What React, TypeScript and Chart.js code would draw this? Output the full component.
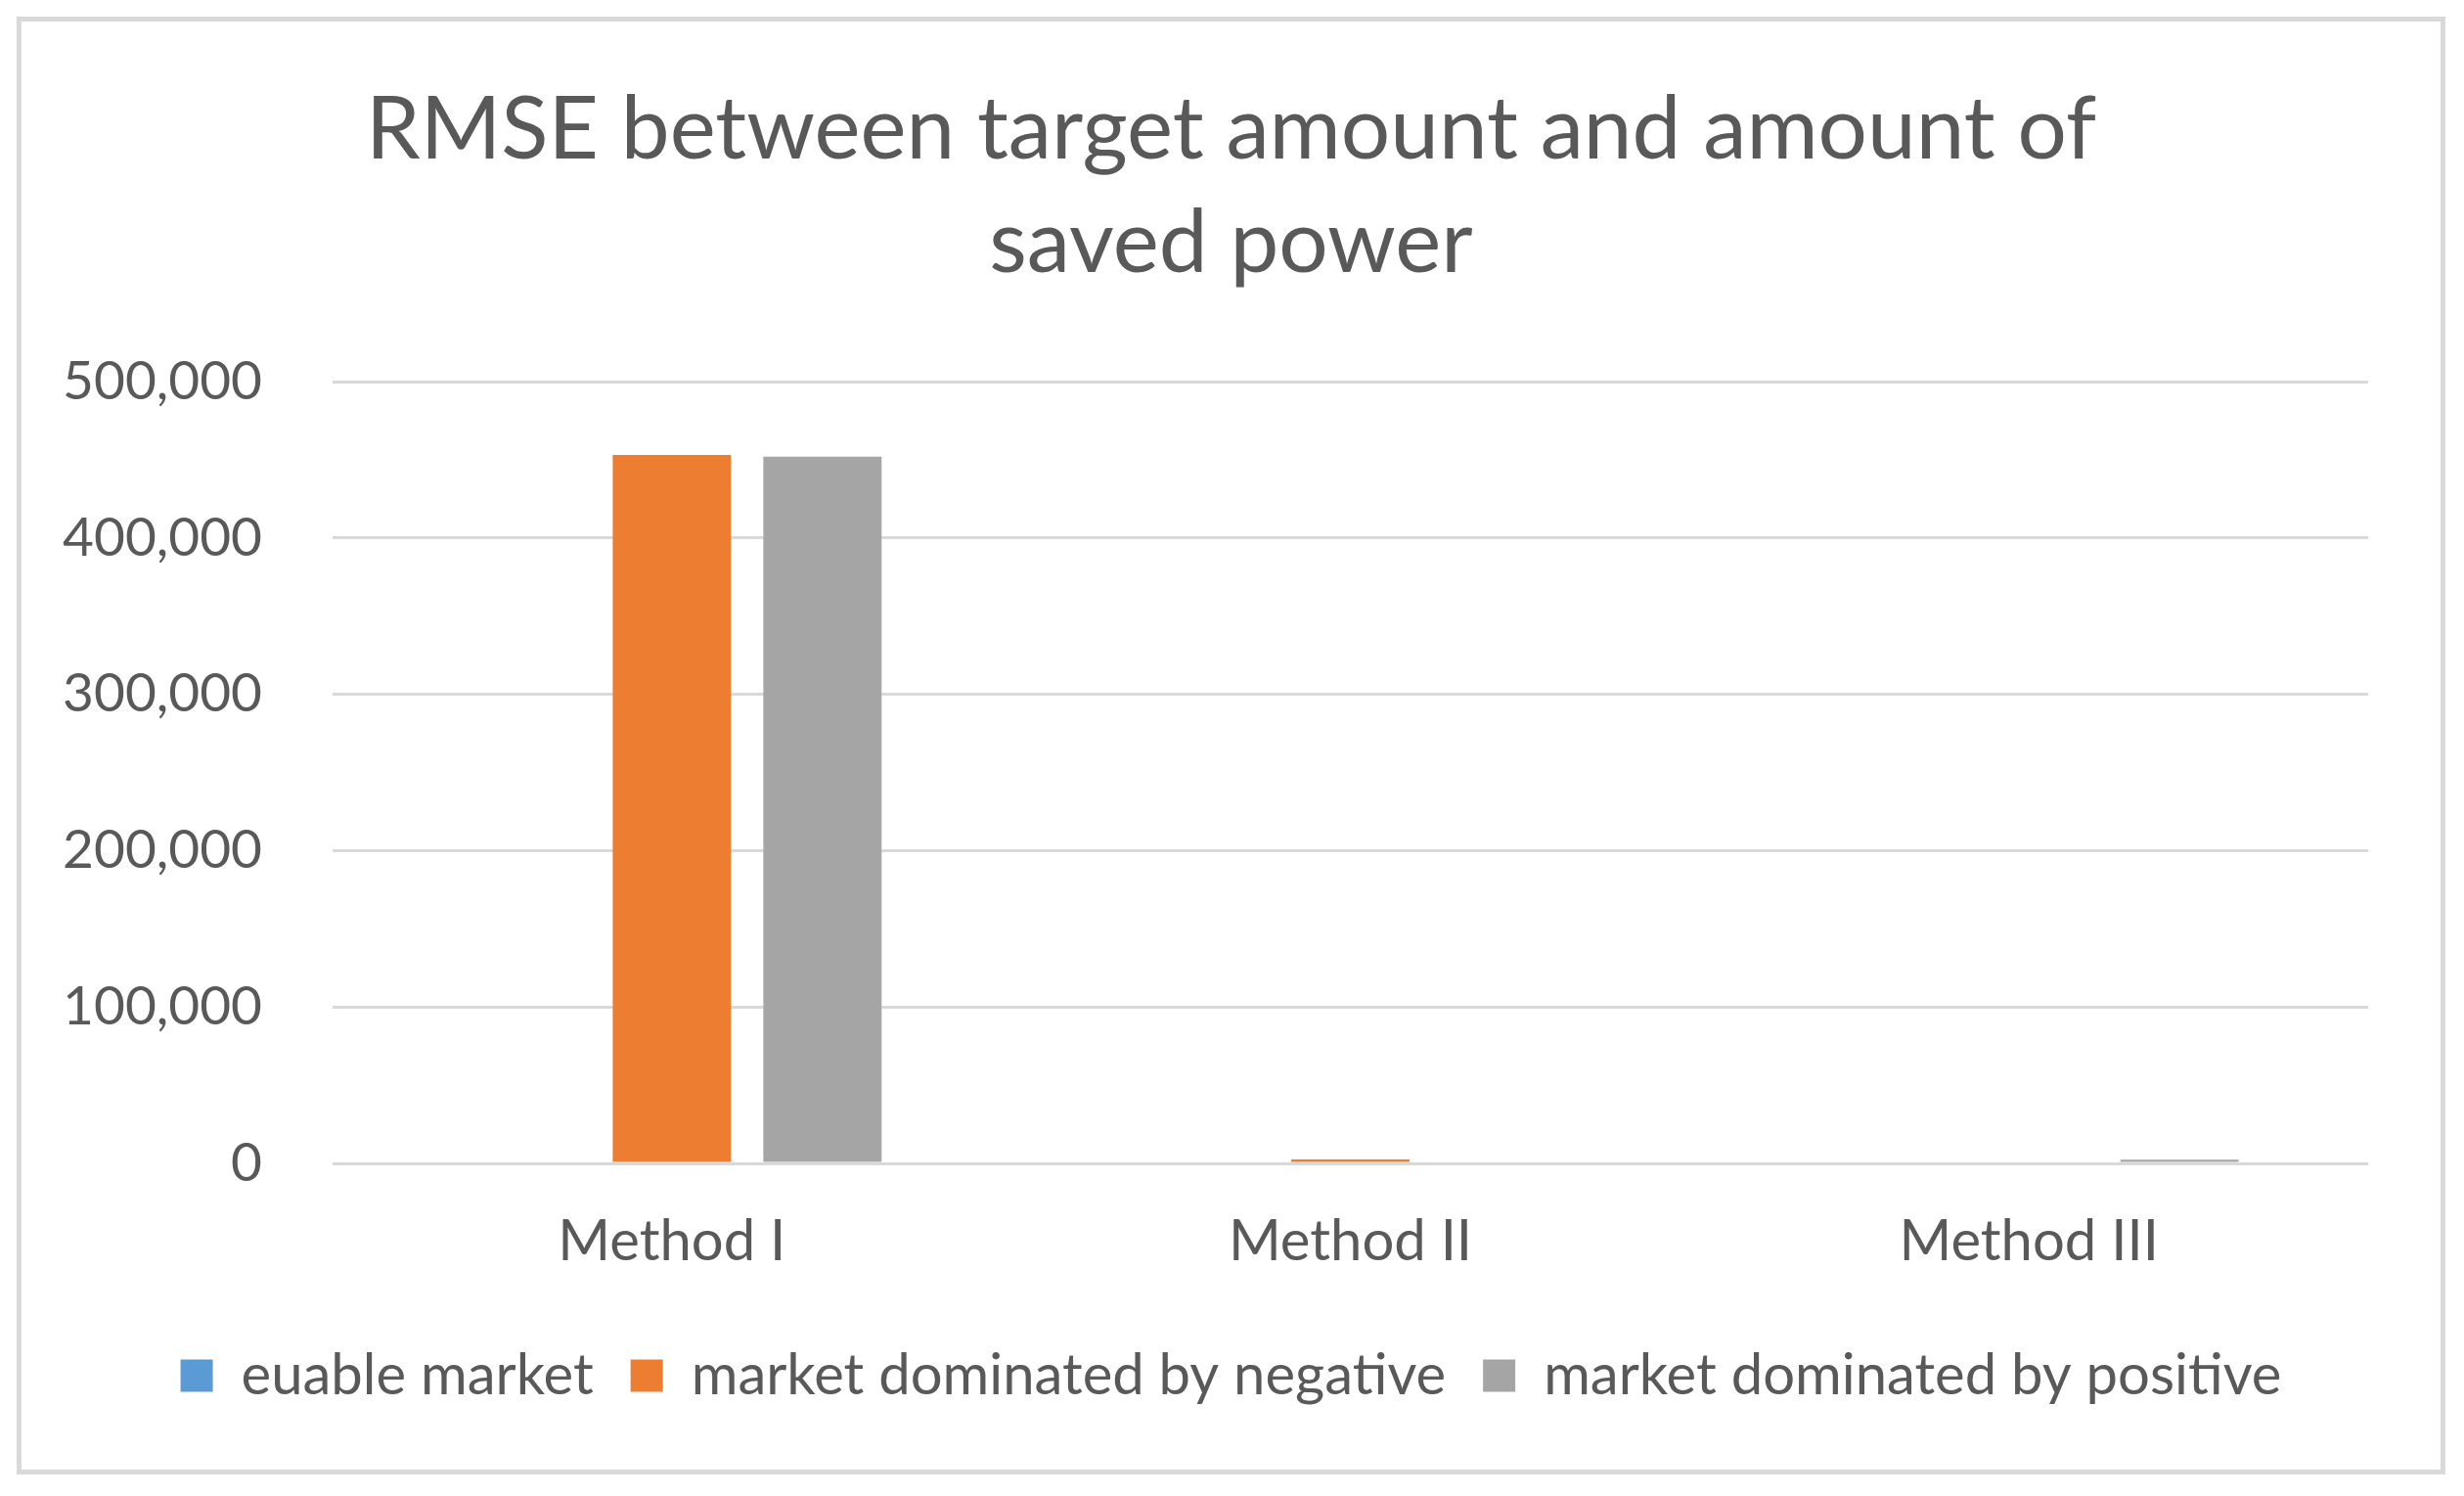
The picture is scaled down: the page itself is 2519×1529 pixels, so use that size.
import React, { useEffect, useRef } from "react";
import { Chart, registerables } from "chart.js";

Chart.register(...registerables);

const categories = ["Method I", "Method II", "Method III"];
const seriesNames = ["euable market", "market dominated by negative", "market dominated by positive"];
const euableMarket = [0, 0, 0];
const dominatedNegative = [453000, 2500, 0];
const dominatedPositive = [452000, 0, 2400];
const seriesColors = ["#5B9BD5", "#ED7D31", "#A5A5A5"];
const titleLines = ["RMSE between target amount and amount of", "saved power"];
const yMax = 500000;
const yStep = 100000;

const FONT = "Lato, 'Noto Sans', sans-serif";
const TEXT = "#595959";

export default function App() {
  const ref = useRef<HTMLCanvasElement | null>(null);
  useEffect(() => {
    if (!ref.current) return;
    const values = [euableMarket, dominatedNegative, dominatedPositive];
    const chart = new Chart(ref.current, {
      type: "bar",
      data: {
        labels: categories,
        datasets: seriesNames.map((name, i) => ({
          label: name,
          data: values[i],
          backgroundColor: seriesColors[i],
          borderWidth: 0,
          categoryPercentage: 0.666,
          barPercentage: 0.785,
        })),
      },
      options: {
        animation: false,
        responsive: false,
        layout: { padding: { top: 0, bottom: 57, left: 0, right: 0 } },
        plugins: {
          title: {
            display: true,
            text: titleLines,
            color: TEXT,
            font: { family: FONT, size: 89, weight: "normal", lineHeight: 116 / 89 },
            padding: { top: 53, bottom: 83 },
          },
          legend: {
            position: "bottom",
            labels: {
              color: TEXT,
              font: { family: FONT, size: 58 },
              boxWidth: 33,
              boxHeight: 33,
              padding: 38,
            },
          },
          tooltip: { enabled: false },
        },
        scales: {
          x: {
            grid: { display: false },
            border: { display: false },
            ticks: { color: TEXT, font: { family: FONT, size: 58 }, padding: 37 },
            afterFit: (s: any) => { s.height = 150; },
          },
          y: {
            min: 0,
            max: yMax,
            ticks: {
              stepSize: yStep,
              color: TEXT,
              font: { family: FONT, size: 55 },
              padding: 72,
              callback: (v: any) => Number(v).toLocaleString("en-US"),
            },
            grid: { color: "#D9D9D9", lineWidth: 3, drawTicks: false },
            border: { display: false },
            afterFit: (s: any) => { s.width = 318; },
          },
          yRight: {
            position: "right",
            display: true,
            grid: { display: false, drawOnChartArea: false },
            ticks: { display: false },
            border: { display: false },
            afterFit: (s: any) => { s.width = 74; },
          },
        },
      },
    });
    return () => chart.destroy();
  }, []);
  return (
    <div
      style={{
        position: "absolute",
        left: 17,
        top: 17,
        width: 2473,
        height: 1480,
        border: "5px solid #D9D9D9",
        background: "#fff",
      }}
    >
      <canvas ref={ref} width={2473} height={1480} style={{ display: "block" }} />
    </div>
  );
}
